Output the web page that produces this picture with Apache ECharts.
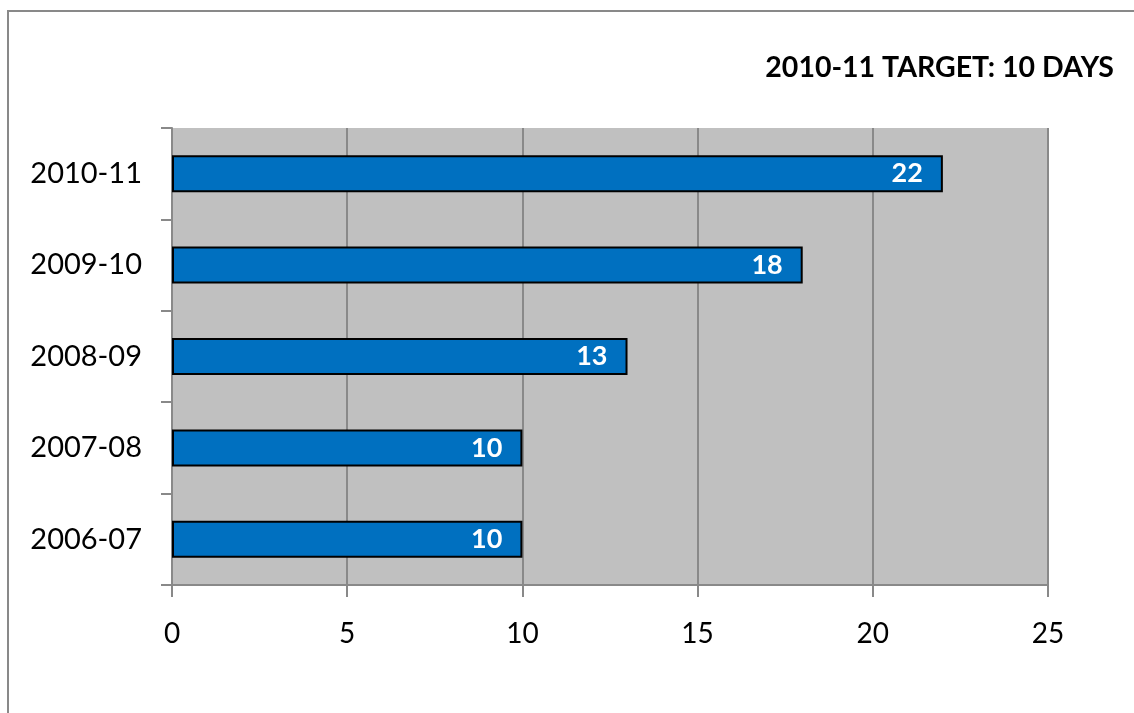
<!DOCTYPE html>
<html>
<head>
<meta charset="utf-8">
<script src="https://cdn.jsdelivr.net/npm/echarts@6/dist/echarts.min.js"></script>
<style>
html,body{margin:0;padding:0;background:#fff;}
#frame{position:absolute;left:7px;top:10px;width:1200px;height:800px;border:2px solid #898989;box-sizing:border-box;}
#chart{position:absolute;left:0;top:0;width:1134px;height:713px;}
</style>
</head>
<body>
<div id="frame"></div>
<div id="chart"></div>
<script>
const categories = ['2006-07', '2007-08', '2008-09', '2009-10', '2010-11'];
const values = [10, 10, 13, 18, 22];
const titleText = '2010-11 TARGET: 10 DAYS';

const chart = echarts.init(document.getElementById('chart'));
chart.setOption({
  animation: false,
  title: {
    text: titleText,
    right: 15,
    top: 48,
    textStyle: {fontFamily: 'Lato', fontWeight: 'bold', fontSize: 28.5, color: '#000'}
  },
  grid: {left: 172, right: 86, top: 128, bottom: 128, containLabel: false,
         show: true, backgroundColor: '#c0c0c0', borderWidth: 0},
  xAxis: {
    type: 'value', min: 0, max: 25, interval: 5,
    axisLine: {show: true, lineStyle: {color: '#898989', width: 2}},
    axisTick: {show: true, length: 12, lineStyle: {color: '#898989', width: 2}},
    splitLine: {show: true, lineStyle: {color: '#898989', width: 2}},
    axisLabel: {fontFamily: 'Lato', fontSize: 28, color: '#000', margin: 35}
  },
  yAxis: {
    type: 'category', data: categories,
    axisLine: {show: true, lineStyle: {color: '#898989', width: 2}},
    axisTick: {show: true, length: 11, lineStyle: {color: '#898989', width: 2}},
    axisLabel: {fontFamily: 'Lato', fontSize: 29, color: '#000', margin: 30}
  },
  series: [{
    type: 'bar', data: values, barWidth: 37,
    itemStyle: {color: '#0070c0', borderColor: '#000', borderWidth: 2},
    label: {show: true, position: 'insideRight', distance: 20, color: '#fff',
            fontFamily: 'Lato', fontWeight: 'bold', fontSize: 27}
  }]
});
</script>
</body>
</html>
